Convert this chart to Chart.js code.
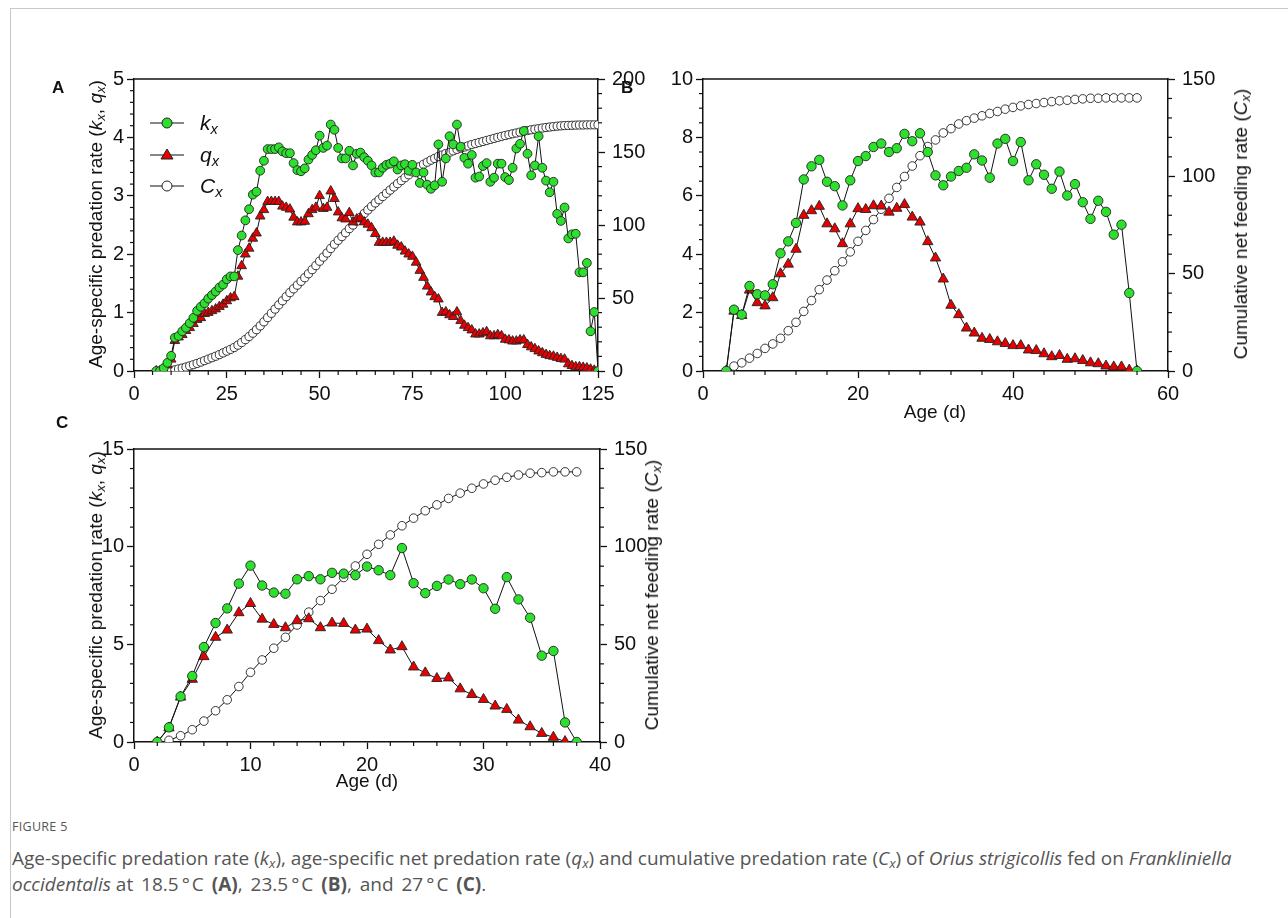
<!DOCTYPE html>
<html><head><meta charset="utf-8">
<script src="https://cdn.jsdelivr.net/npm/chart.js@4.4.1/dist/chart.umd.min.js"></script>
<style>
html,body{margin:0;padding:0;background:#fff;}
body{width:1288px;height:918px;overflow:hidden;position:relative;font-family:"Liberation Sans",Arial,sans-serif;color:#111;}
canvas{position:absolute;}
.frame{position:absolute;left:10px;top:8px;width:1300px;height:940px;border-left:1px solid #c8c8c8;border-top:1px solid #c8c8c8;}
.lbl{position:absolute;font-weight:bold;font-size:17px;}
.rot{position:absolute;transform:translate(-50%,-50%) rotate(-90deg);white-space:nowrap;font-size:19px;}
.xt{position:absolute;transform:translate(-50%,-50%);white-space:nowrap;font-size:19px;}
sub{font-size:70%;vertical-align:-0.25em;line-height:0;}
.leg{position:absolute;left:150px;font-size:21px;font-style:italic;}
.leg div{position:absolute;white-space:nowrap;}
.leg svg{position:absolute;left:0;}
.leg span{position:absolute;left:50px;transform:translateY(-50%);}
.fig{position:absolute;left:12px;top:818px;font-family:"Open Sans",sans-serif;font-size:12.5px;color:#555;letter-spacing:0.3px;}
.cap{position:absolute;left:12px;font-family:"Open Sans",sans-serif;font-size:19px;color:#555;white-space:nowrap;}
.wide{word-spacing:3px;}
.dg{margin:0 2px 0 3px;}
</style></head><body>
<div class="frame"></div>
<canvas id="cA" width="640" height="350" style="left:40px;top:60px"></canvas>
<canvas id="cB" width="610" height="350" style="left:650px;top:60px"></canvas>
<canvas id="cC" width="620" height="350" style="left:40px;top:430px"></canvas>

<div class="lbl" style="left:52px;top:78px">A</div>
<div class="lbl" style="left:621px;top:78px">B</div>
<div class="lbl" style="left:56px;top:413px">C</div>

<div class="rot" style="left:96px;top:224px">Age-specific predation rate (<i>k<sub>x</sub></i>, <i>q<sub>x</sub></i>)</div>
<div class="rot" style="left:1241px;top:224px">Cumulative net feeding rate (<i>C<sub>x</sub></i>)</div>
<div class="rot" style="left:96px;top:595px">Age-specific predation rate (<i>k<sub>x</sub></i>, <i>q<sub>x</sub></i>)</div>
<div class="rot" style="left:652px;top:595px">Cumulative net feeding rate (<i>C<sub>x</sub></i>)</div>
<div class="xt" style="left:935px;top:412px">Age (d)</div>
<div class="xt" style="left:367px;top:781px">Age (d)</div>

<div class="leg" style="top:0">
  <div style="top:123px"><svg width="36" height="16" style="top:-8px"><line x1="0" y1="8" x2="34" y2="8" stroke="#111" stroke-width="1.2"/><circle cx="17" cy="8" r="5" fill="#2ee02e" stroke="#222" stroke-width="1"/></svg><span>k<sub>x</sub></span></div>
  <div style="top:155px"><svg width="36" height="16" style="top:-8px"><line x1="0" y1="8" x2="34" y2="8" stroke="#111" stroke-width="1.2"/><polygon points="17,2 23,12 11,12" fill="#e60000" stroke="#222" stroke-width="1"/></svg><span>q<sub>x</sub></span></div>
  <div style="top:186px"><svg width="36" height="16" style="top:-8px"><line x1="0" y1="8" x2="34" y2="8" stroke="#111" stroke-width="1.2"/><circle cx="17" cy="8" r="5" fill="#fff" stroke="#222" stroke-width="1"/></svg><span>C<sub>x</sub></span></div>
</div>

<div class="fig">FIGURE 5</div>
<div class="cap" style="top:845px">Age-specific predation rate (<i>k<sub>x</sub></i>), age-specific net predation rate (<i>q<sub>x</sub></i>) and cumulative predation rate (<i>C<sub>x</sub></i>) of <i>Orius strigicollis</i> fed on <i>Frankliniella</i></div>
<div class="cap" style="top:871px"><i>occidentalis</i> <span class="wide">at 18.5<span class="dg">°</span>C <b>(A)</b>, 23.5<span class="dg">°</span>C <b>(B)</b>, and 27<span class="dg">°</span>C <b>(C)</b>.</span></div>

<script>
// ---------------- Panel A (18.5 °C) ----------------
const ageA = [6,7,8,9,10,11,12,13,14,15,16,17,18,19,20,21,22,23,24,25,26,27,28,29,30,31,32,33,34,35,36,37,38,39,40,41,42,43,44,45,46,47,48,49,50,51,52,53,54,55,56,57,58,59,60,61,62,63,64,65,66,67,68,69,70,71,72,73,74,75,76,77,78,79,80,81,82,83,84,85,86,87,88,89,90,91,92,93,94,95,96,97,98,99,100,101,102,103,104,105,106,107,108,109,110,111,112,113,114,115,116,117,118,119,120,121,122,123,124,125];
const kxA = [0,0,0.05,0.14,0.26,0.57,0.6,0.68,0.74,0.82,
  0.91,1.03,1.1,1.16,1.24,1.3,1.36,1.43,1.48,1.57,
  1.62,1.62,2.07,2.32,2.58,2.77,3.02,3.07,3.43,3.6,
  3.8,3.8,3.8,3.83,3.76,3.73,3.73,3.56,3.44,3.42,
  3.47,3.62,3.7,3.78,4.03,3.82,3.86,4.22,4.13,3.82,
  3.64,3.64,3.77,3.52,3.72,3.74,3.66,3.6,3.52,3.4,
  3.4,3.48,3.53,3.55,3.59,3.45,3.52,3.54,3.43,3.53,
  3.4,3.22,3.4,3.19,3.12,3.18,3.88,3.24,3.64,4.02,
  3.88,4.22,3.84,3.65,3.55,3.7,3.31,3.33,3.51,3.56,
  3.24,3.31,3.55,3.55,3.32,3.27,3.48,3.81,3.89,4.11,
  3.72,3.35,3.52,4.02,3.48,3.26,3.06,3.24,2.69,2.57,
  2.8,2.27,2.34,2.35,1.69,1.69,1.85,0.68,1.01,0];
const qxA = [0,0,0.02,0.1,0.2,0.52,0.58,0.62,0.69,0.74,
  0.81,0.88,0.91,0.98,1.0,1.03,1.06,1.1,1.14,1.2,
  1.25,1.27,1.62,1.8,2.0,2.1,2.27,2.36,2.65,2.76,
  2.9,2.9,2.9,2.9,2.82,2.8,2.77,2.63,2.55,2.55,
  2.56,2.69,2.76,2.8,3.0,2.78,2.8,3.08,2.95,2.72,
  2.62,2.6,2.71,2.55,2.6,2.62,2.55,2.51,2.45,2.35,
  2.2,2.2,2.2,2.2,2.22,2.15,2.12,2.05,2.0,1.96,
  1.86,1.72,1.6,1.45,1.35,1.27,1.23,1.0,1.01,0.96,
  0.93,1.01,0.86,0.78,0.74,0.7,0.63,0.63,0.65,0.67,
  0.6,0.6,0.62,0.6,0.54,0.53,0.51,0.51,0.53,0.53,
  0.45,0.41,0.38,0.34,0.31,0.28,0.26,0.25,0.23,0.21,
  0.2,0.12,0.09,0.07,0.07,0.06,0.05,0.03,0.01,0];
const CxA = [null,null,null,0.1,0.3,0.8,1.4,2.0,2.7,3.5,
  4.3,5.2,6.1,7.1,8.1,9.1,10.1,11.2,12.4,13.6,
  14.8,16.1,17.7,19.5,21.5,23.6,25.9,28.3,30.9,33.7,
  36.6,39.5,42.4,45.3,48.1,50.9,53.7,56.3,58.8,61.4,
  63.9,66.6,69.4,72.2,75.2,78.0,80.8,83.9,86.8,89.5,
  92.1,94.7,97.5,100.0,102.6,105.2,107.8,110.3,112.7,115.1,
  117.3,119.5,121.7,123.9,126.1,128.3,130.4,132.4,134.4,136.4,
  138.2,140.0,141.6,143.0,144.4,145.6,146.9,147.9,148.9,149.8,
  150.8,151.8,152.6,153.4,154.2,155.1,155.8,156.5,157.2,157.9,
  158.6,159.3,160.0,160.7,161.3,161.9,162.5,163.0,163.6,164.2,
  164.7,165.2,165.6,166.0,166.4,166.8,167.1,167.4,167.7,167.9,
  168.1,168.2,168.3,168.4,168.5,168.5,168.6,168.6,168.6,168.6];
const xTicksA = [0,25,50,75,100,125];
const yTicksA = [0,1,2,3,4,5];
const y2TicksA = [0,50,100,150,200];

// ---------------- Panel B (23.5 °C) ----------------
const ageB = [3,4,5,6,7,8,9,10,11,12,13,14,15,16,17,18,19,20,21,22,23,24,25,26,27,28,29,30,31,32,33,34,35,36,37,38,39,40,41,42,43,44,45,46,47,48,49,50,51,52,53,54,55,56];
const kxB = [0,2.10,1.93,2.91,2.63,2.59,2.97,4.03,4.44,5.07,6.56,7.01,7.23,6.48,6.33,5.67,6.53,7.19,7.36,7.67,7.79,7.50,7.63,8.12,7.87,8.14,7.50,6.70,6.36,6.66,6.85,6.96,7.42,7.21,6.62,7.79,7.95,7.19,7.84,6.53,7.08,6.72,6.24,6.83,6.01,6.40,5.78,5.21,5.83,5.45,4.67,5.01,2.67,0];
const qxB = [0,2.05,1.90,2.77,2.34,2.23,2.51,3.33,3.66,4.17,5.33,5.49,5.64,5.04,4.87,4.36,5.04,5.56,5.53,5.66,5.65,5.44,5.57,5.70,5.27,5.10,4.43,3.87,3.15,2.25,1.93,1.47,1.30,1.12,1.08,1.00,0.94,0.87,0.87,0.72,0.70,0.59,0.49,0.53,0.40,0.42,0.36,0.28,0.25,0.17,0.14,0.14,0.03,0];
const CxB = [null,2.5,4.2,6.6,9.0,11.6,13.9,16.8,20.7,25.0,30.6,36.2,41.8,46.7,51.5,56.1,61.2,66.6,72.2,77.8,83.1,88.7,94.3,99.9,105.3,110.6,115.3,118.7,122.3,124.5,126.9,128.6,129.9,131.1,132.3,133.3,134.5,135.4,136.2,136.9,137.4,137.9,138.4,138.8,139.1,139.5,139.8,140.1,140.1,140.3,140.3,140.3,140.3,140.3];
const xTicksB = [0,20,40,60];
const yTicksB = [0,2,4,6,8,10];
const y2TicksB = [0,50,100,150];

// ---------------- Panel C (27 °C) ----------------
const ageC = [2,3,4,5,6,7,8,9,10,11,12,13,14,15,16,17,18,19,20,21,22,23,24,25,26,27,28,29,30,31,32,33,34,35,36,37,38];
const kxC = [0,0.75,2.33,3.38,4.86,6.09,6.84,8.11,9.03,8.01,7.65,7.59,8.33,8.49,8.33,8.66,8.62,8.54,8.98,8.79,8.54,9.93,8.13,7.62,7.99,8.32,8.08,8.32,7.87,6.82,8.44,7.30,6.36,4.42,4.66,1.00,0];
const qxC = [0,0.72,2.3,3.21,4.37,5.36,5.73,6.62,7.09,6.29,6.02,5.85,6.21,6.31,5.85,6.09,6.07,5.73,5.78,5.19,4.71,4.88,3.84,3.54,3.25,3.28,2.72,2.43,2.18,1.84,1.67,1.12,0.78,0.44,0.24,0.02,null];
const CxC = [null,0.85,3.2,6.3,10.7,16.0,21.6,28.4,35.7,42.0,48.0,53.6,59.9,66.5,72.4,78.2,84.2,90.1,96.1,101.2,106.0,110.7,114.6,118.4,121.4,124.7,127.4,129.9,132.1,134.0,135.5,136.7,137.6,137.9,138.3,138.3,138.3];
const xTicksC = [0,10,20,30,40];
const yTicksC = [0,5,10,15];
const y2TicksC = [0,50,100,150];

// ---------------- helpers ----------------
const FONT = '"Liberation Sans", Arial, sans-serif';
const INK = '#111';
const GREEN = '#2ee02e', RED = '#e60000';

const near = (a, b) => Math.abs(a - b) < 1e-6;
function axis(pos, min, max, minor, majors, size) {
  return {
    type: 'linear', position: pos, min: min, max: max,
    afterFit: s => { if (pos === 'bottom') s.height = size; else s.width = size; },
    afterBuildTicks: s => {
      const t = [];
      const n = Math.round((max - min) / minor);
      for (let i = 0; i <= n; i++) t.push({ value: +(min + i * minor).toFixed(6) });
      s.ticks = t;
    },
    ticks: {
      autoSkip: false, maxRotation: 0, minRotation: 0,
      padding: pos === 'bottom' ? 4 : (pos === 'left' ? 3 : 7),
      color: INK, font: { family: FONT, size: 20 },
      callback: v => majors.some(m => near(m, v)) ? String(v) : ''
    },
    grid: {
      drawOnChartArea: false, drawTicks: true, tickLength: 7, tickWidth: 1.3,
      tickColor: c => (c.tick && majors.some(m => near(m, c.tick.value))) ? INK : 'rgba(0,0,0,0)'
    },
    border: { display: true, color: INK, width: 1.5 }
  };
}

const framePlugin = {
  id: 'frameMinor',
  afterDraw(chart) {
    const ctx = chart.ctx, a = chart.chartArea;
    ctx.save();
    ctx.strokeStyle = INK; ctx.lineWidth = 1.5;
    ctx.beginPath(); ctx.moveTo(a.left - 0.75, a.top); ctx.lineTo(a.right + 0.75, a.top); ctx.stroke();
    ctx.lineWidth = 1.2;
    for (const s of Object.values(chart.scales)) {
      s.ticks.forEach(t => {
        if (t.label !== '') return;
        const p = s.getPixelForValue(t.value);
        ctx.beginPath();
        if (s.position === 'left') { ctx.moveTo(s.right, p); ctx.lineTo(s.right - 4, p); }
        else if (s.position === 'right') { ctx.moveTo(s.left, p); ctx.lineTo(s.left + 4, p); }
        else { ctx.moveTo(p, s.top); ctx.lineTo(p, s.top + 4); }
        ctx.stroke();
      });
    }
    ctx.restore();
  }
};

function pts(xs, ys) { return ys.map((v, i) => ({ x: xs[i], y: v })); }

function series(kx, qx, Cx, xs, r) {
  return [
    { label: 'kx', data: pts(xs, kx), yAxisID: 'y', order: 0,
      borderColor: INK, borderWidth: 1, pointStyle: 'circle', pointRadius: r.k,
      pointBackgroundColor: GREEN, pointBorderColor: '#222', pointBorderWidth: 0.9, spanGaps: false },
    { label: 'qx', data: pts(xs, qx), yAxisID: 'y', order: 1,
      borderColor: INK, borderWidth: 1, pointStyle: 'triangle', pointRadius: r.q,
      pointBackgroundColor: RED, pointBorderColor: '#222', pointBorderWidth: 0.9, spanGaps: false },
    { label: 'Cx', data: pts(xs, Cx), yAxisID: 'y2', order: 2,
      borderColor: INK, borderWidth: 1, pointStyle: 'circle', pointRadius: r.c,
      pointBackgroundColor: '#fff', pointBorderColor: '#222', pointBorderWidth: 0.9, spanGaps: false }
  ];
}

function make(id, datasets, sc, top) {
  new Chart(document.getElementById(id), {
    type: 'line',
    data: { datasets: datasets },
    options: {
      responsive: false, devicePixelRatio: 1, animation: false, events: [],
      layout: { padding: { top: top, left: 0, right: 0, bottom: 0 } },
      plugins: { legend: { display: false }, tooltip: { enabled: false } },
      scales: sc
    },
    plugins: [framePlugin]
  });
}

make('cA', series(kxA, qxA, CxA, ageA, { k: 4.4, q: 5.6, c: 4.1 }), {
  x: axis('bottom', 0, 125, 5, xTicksA, 39),
  y: axis('left', 0, 5, 0.2, yTicksA, 94),
  y2: axis('right', 0, 200, 10, y2TicksA, 82)
}, 17);

make('cB', series(kxB, qxB, CxB, ageB, { k: 4.7, q: 6, c: 4.3 }), {
  x: axis('bottom', 0, 60, 4, xTicksB, 39),
  y: axis('left', 0, 10, 0.5, yTicksB, 53),
  y2: axis('right', 0, 150, 10, y2TicksB, 92)
}, 17);

make('cC', series(kxC, qxC, CxC, ageC, { k: 4.7, q: 6, c: 4.3 }), {
  x: axis('bottom', 0, 40, 2, xTicksC, 38),
  y: axis('left', 0, 15, 1, yTicksC, 94),
  y2: axis('right', 0, 150, 10, y2TicksC, 60)
}, 18);
</script>
</body></html>
